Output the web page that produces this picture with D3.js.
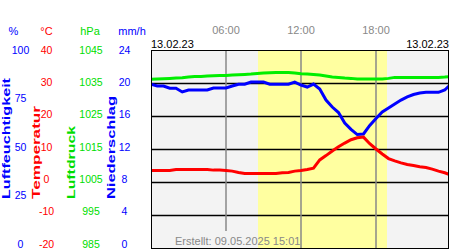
<!DOCTYPE html>
<html>
<head>
<meta charset="utf-8">
<script src="https://cdn.jsdelivr.net/npm/d3@7"></script>
<style>
body { margin:0; background:#fff; }
text { font-family: "Liberation Sans", Arial, sans-serif; }
</style>
</head>
<body>
<div id="chart"></div>
<script>
// half-hourly readings, 13.02.23
var hours = [0,0.5,1,1.5,2,2.5,3,3.5,4,4.5,5,5.5,6,6.5,7,7.5,8,8.5,9,9.5,10,10.5,11,11.5,
             12,12.5,13,13.5,14,14.5,15,15.5,16,16.5,17,17.5,18,18.5,19,19.5,20,20.5,21,21.5,22,22.5,23,23.5,23.83];
var humidity = [82.7,81.8,81.8,80.7,80.7,78.8,79.8,79.8,79.8,79.8,80.8,80.8,80.8,81.8,82.7,82.7,83.8,83.8,83.8,82.7,82.7,82.7,82.7,83.8,
                82.3,81.3,82.8,80.3,74.7,71.2,68.4,63.1,59.9,57.3,57.6,61.9,65.4,68.7,70.7,72.7,74.7,76.3,77.5,78.3,78.6,78.6,78.6,79.8,81.8];
var temperature = [3.5,3.5,3.5,3.5,3.8,3.8,3.8,3.8,3.8,3.8,3.6,3.6,3.5,3.3,2.9,2.6,2.6,2.6,2.6,2.6,2.6,2.8,2.9,3.3,
                   3.5,3.8,4.2,6.7,8.0,9.4,10.7,11.8,12.8,13.4,13.6,11.6,10.0,8.5,7.1,6.4,5.8,5.3,5.0,4.6,4.4,3.9,3.3,2.8,2.3];
var pressure = [1036.1,1036.2,1036.3,1036.4,1036.5,1036.6,1036.8,1037.0,1037.0,1037.1,1037.2,1037.3,1037.3,1037.4,1037.5,1037.6,1037.7,1037.9,1038.0,1038.1,1038.2,1038.2,1038.2,1038.0,
                1037.8,1037.7,1037.6,1037.4,1037.1,1036.8,1036.7,1036.5,1036.4,1036.2,1036.2,1036.2,1036.2,1036.2,1036.4,1036.7,1036.7,1036.7,1036.7,1036.7,1036.7,1036.7,1036.7,1036.8,1036.9];

var humTicks = [0,25,50,75,100];
var tempTicks = [-20,-10,0,10,20,30,40];
var presTicks = [985,995,1005,1015,1025,1035,1045];
var rainTicks = [0,4,8,12,16,20,24];
var timeTicks = [6,12,18];
var timeLabels = ["06:00","12:00","18:00"];
var daylight = [8.56, 18.88];
var dateLabel = "13.02.23";
var created = "Erstellt: 09.05.2025 15:01";

var width = 450, height = 250;
var plotL = 151, plotR = 449, plotT = 50, plotB = 248;

var svg = d3.select("#chart").append("svg")
    .attr("width", width)
    .attr("height", height);

var x = d3.scaleLinear().domain([0,24]).range([plotL, plotL+300]);
var yHum = d3.scaleLinear().domain([0,100]).range([plotB, plotT]);
var yTemp = d3.scaleLinear().domain([-20,40]).range([plotB, plotT]);
var yPres = d3.scaleLinear().domain([985,1045]).range([plotB, plotT]);
// tick labels sit a little higher at the bottom than the grid
var lHum = d3.scaleLinear().domain([0,100]).range([244, 50]);
var lTemp = d3.scaleLinear().domain([-20,40]).range([244, 50]);
var lPres = d3.scaleLinear().domain([985,1045]).range([244, 50]);
var lRain = d3.scaleLinear().domain([0,24]).range([244, 50]);

svg.append("clipPath").attr("id","plotclip")
    .append("rect").attr("x", plotL).attr("y", plotT).attr("width", plotR-plotL).attr("height", plotB-plotT);

// background
svg.append("rect")
    .attr("x", plotL).attr("y", plotT)
    .attr("width", plotR-plotL).attr("height", plotB-plotT)
    .style("fill", "#f3f3f3");
svg.append("rect")
    .attr("x", x(daylight[0])).attr("y", plotT)
    .attr("width", x(daylight[1]) - x(daylight[0])).attr("height", plotB-plotT)
    .style("fill", "#ffffa0");

// horizontal grid
svg.append("g").selectAll("line")
    .data(tempTicks.slice(1, -1))
    .join("line")
    .attr("x1", plotL).attr("x2", plotR)
    .attr("y1", d => Math.round(yTemp(d)) + 0.5).attr("y2", d => Math.round(yTemp(d)) + 0.5)
    .style("stroke", "#000").style("stroke-width", 1.5);

// vertical grid
svg.append("g").selectAll("line")
    .data(timeTicks)
    .join("line")
    .attr("x1", d => x(d)).attr("x2", d => x(d))
    .attr("y1", plotT).attr("y2", d => d === 6 ? 231 : plotB)
    .style("stroke", "#888").style("stroke-width", 1.5);

// series
var plot = svg.append("g").attr("clip-path", "url(#plotclip)");
function drawSeries(values, y, color) {
    var line = d3.line()
        .x((d, i) => x(hours[i]))
        .y(d => y(d));
    plot.append("path")
        .datum(values)
        .attr("d", line)
        .style("fill", "none")
        .style("stroke", color)
        .style("stroke-width", 3);
}
drawSeries(pressure, yPres, "#00ee00");
drawSeries(humidity, yHum, "#0000ff");
drawSeries(temperature, yTemp, "#ff0000");

// frame
svg.append("rect")
    .attr("x", plotL + 0.5).attr("y", plotT + 0.5)
    .attr("width", plotR-plotL-1).attr("height", plotB-plotT)
    .style("fill", "none").style("stroke", "#000").style("stroke-width", 1);

// time labels
svg.append("g").selectAll("text")
    .data(timeTicks)
    .join("text")
    .attr("x", d => x(d)).attr("y", 30).attr("dy", "0.35em")
    .style("text-anchor", "middle").style("font-size", "11px").style("fill", "#888")
    .text((d, i) => timeLabels[i]);

svg.append("text").attr("x", plotL).attr("y", 44).attr("dy", "0.35em")
    .style("font-size", "11px").style("fill", "#000").text(dateLabel);
svg.append("text").attr("x", plotR).attr("y", 44).attr("dy", "0.35em")
    .style("text-anchor", "end").style("font-size", "11px").style("fill", "#000").text(dateLabel);

svg.append("text").attr("x", 175).attr("y", 241).attr("dy", "0.35em")
    .style("font-size", "11px").style("fill", "#888").text(created);

// units header
var units = [
    {t:"%", x:13.5, c:"#0000ff"},
    {t:"°C", x:46.5, c:"#ff0000"},
    {t:"hPa", x:90, c:"#00dd00"},
    {t:"mm/h", x:132, c:"#0000ff"}
];
svg.append("g").selectAll("text")
    .data(units)
    .join("text")
    .attr("x", d => d.x).attr("y", 31).attr("dy", "0.35em")
    .style("text-anchor", "middle").style("font-size", "11px")
    .style("fill", d => d.c)
    .text(d => d.t);

// tick labels
function tickLabels(ticks, scale, xc, color) {
    svg.append("g").selectAll("text")
        .data(ticks)
        .join("text")
        .attr("x", xc).attr("y", d => scale(d)).attr("dy", "0.35em")
        .style("text-anchor", "middle").style("font-size", "10.5px")
        .style("fill", color)
        .text(d => d);
}
tickLabels(humTicks, lHum, 20.5, "#0000ff");
tickLabels(tempTicks, lTemp, 46.5, "#ff0000");
tickLabels(presTicks, lPres, 91, "#00dd00");
tickLabels(rainTicks, lRain, 124.5, "#0000ff");

// rotated axis titles
var titles = [
    {t:"Luftfeuchtigkeit", x:9.5, len:121, c:"#0000ff"},
    {t:"Temperatur", x:39.5, len:93, c:"#ff0000"},
    {t:"Luftdruck", x:75, len:73, c:"#00dd00"},
    {t:"Niederschlag", x:114.5, len:103, c:"#0000ff"}
];
svg.append("g").selectAll("text")
    .data(titles)
    .join("text")
    .attr("transform", d => "translate(" + d.x + ",199) rotate(-90)")
    .attr("textLength", d => d.len)
    .attr("lengthAdjust", "spacingAndGlyphs")
    .style("font-size", "10.5px").style("font-weight", "bold")
    .style("fill", d => d.c)
    .text(d => d.t);
</script>
</body>
</html>
